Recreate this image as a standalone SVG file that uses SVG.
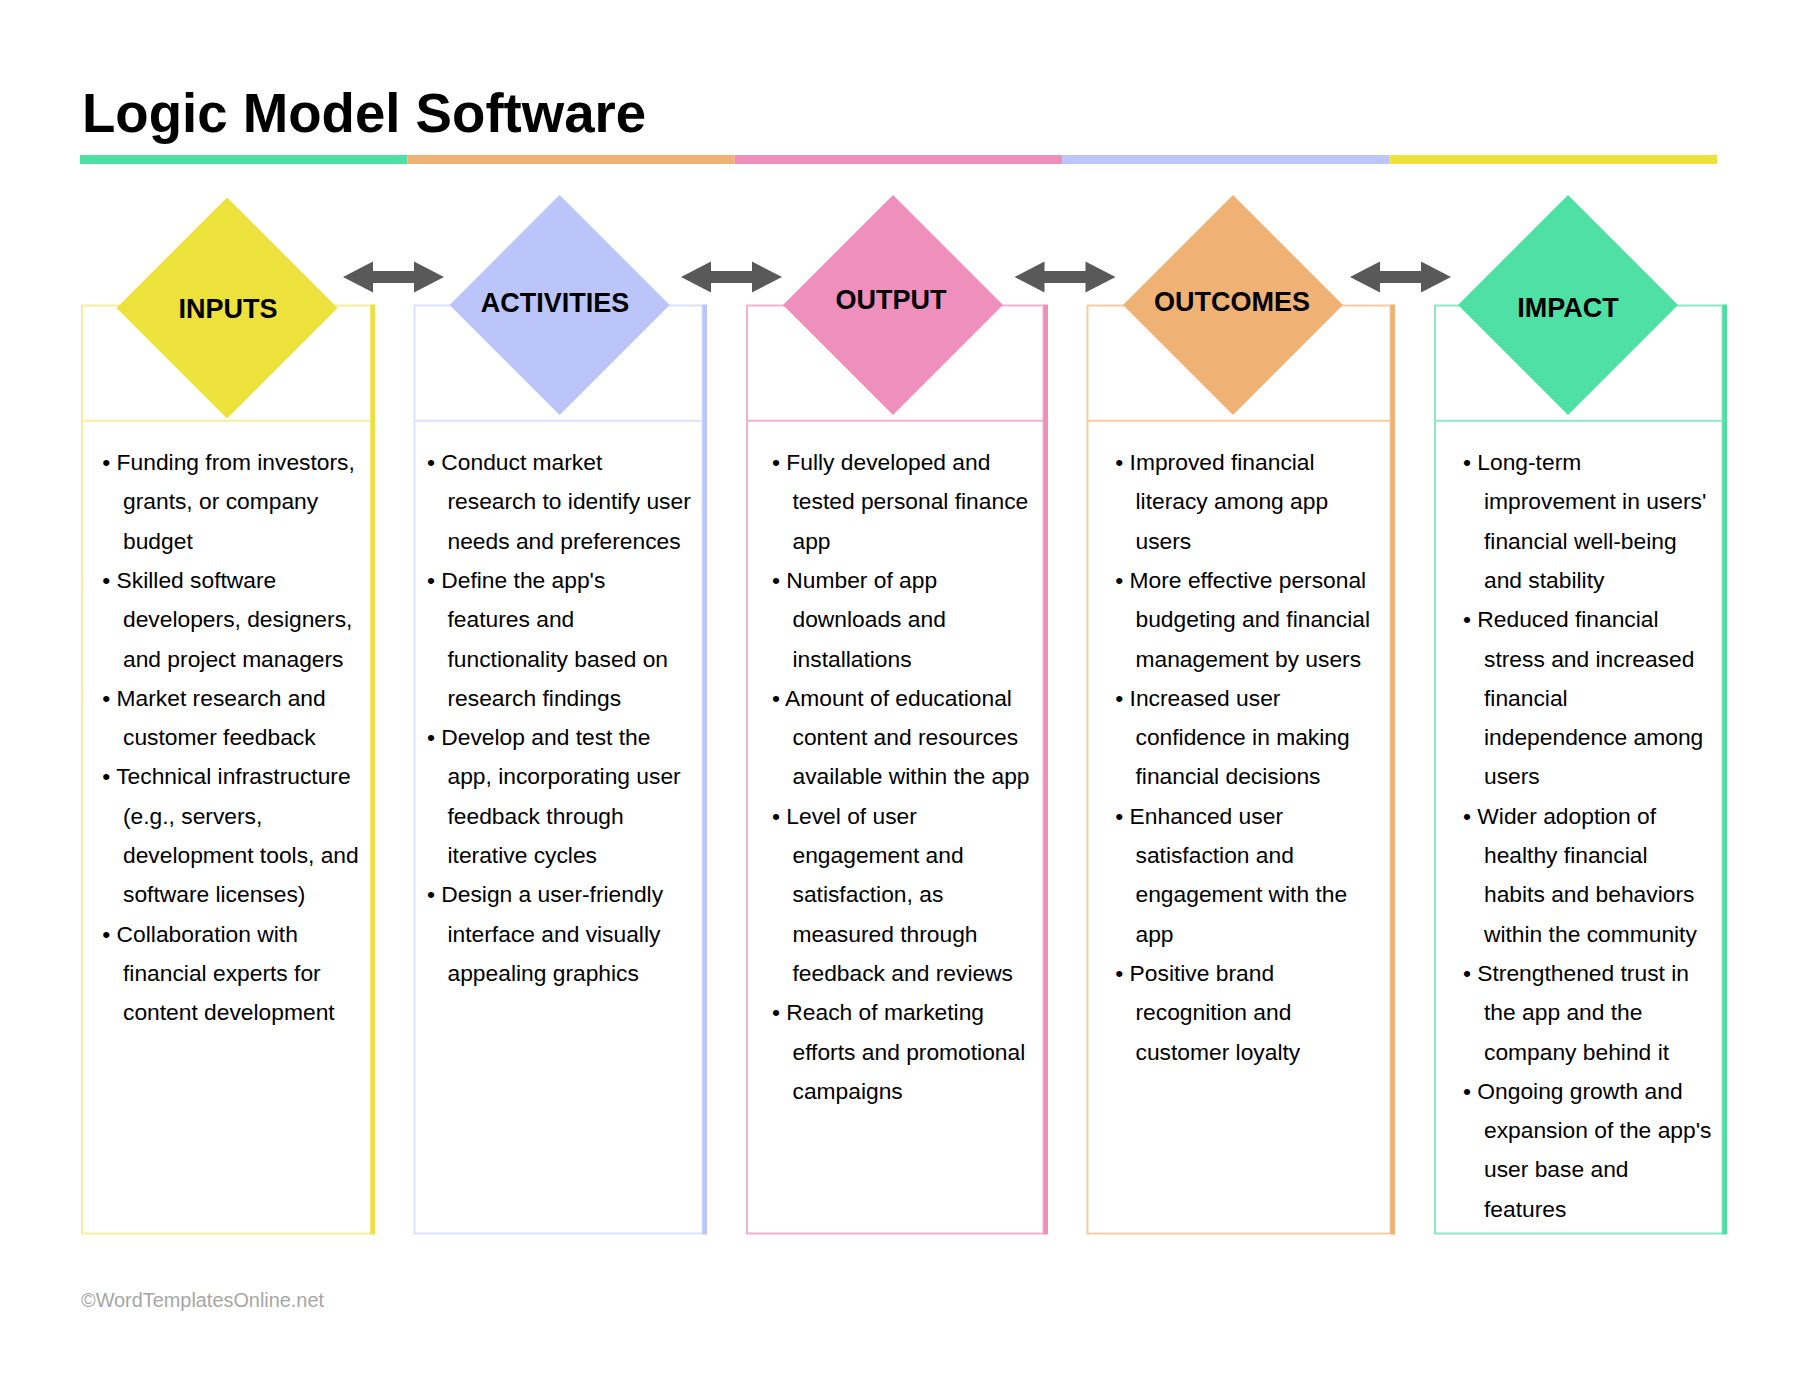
<svg xmlns="http://www.w3.org/2000/svg" width="1800" height="1391" viewBox="0 0 1800 1391">
<style>
.title{font-family:"Liberation Sans",Arial,sans-serif;font-weight:bold;font-size:54.6px;fill:#000}
.lbl{font-family:"Liberation Sans",Arial,sans-serif;font-weight:bold;font-size:27px;fill:#000;text-anchor:middle}
.body{font-family:"Liberation Sans",Arial,sans-serif;font-size:22.8px;fill:#000}
.foot{font-family:"Liberation Sans",Arial,sans-serif;font-size:19.5px;fill:#a6a6a6}
.box{fill:#fff;stroke-width:2}
.arrow{fill:#595959}
</style>
<defs>
<path id="dbl" d="M0,0 L30,-15.5 L30,-6 L71,-6 L71,-15.5 L101,0 L71,15.5 L71,6 L30,6 L30,15.5 Z"/>
</defs>
<rect width="1800" height="1391" fill="#fff"/>
<text class="title" x="82" y="132">Logic Model Software</text>
<g id="bar">
<rect x="80" y="155" width="327.4" height="9" fill="#4FE0A5"/>
<rect x="407.4" y="155" width="327.4" height="9" fill="#EFB274"/>
<rect x="734.8" y="155" width="327.4" height="9" fill="#EE8FBC"/>
<rect x="1062.2" y="155" width="327.4" height="9" fill="#BBC5F9"/>
<rect x="1389.6" y="155" width="327.4" height="9" fill="#EDE23B"/>
</g>
<g id="connectors" class="arrow">
<use href="#dbl" x="343" y="277"/>
<use href="#dbl" x="681" y="277"/>
<use href="#dbl" x="1014.5" y="277"/>
<use href="#dbl" x="1350" y="277"/>
</g>
<g id="inputs">
<rect class="box" x="82" y="305.5" width="289" height="928" stroke="#F6EE9E"/>
<line x1="82" y1="420.7" x2="371" y2="420.7" stroke="#F6EE9E" stroke-width="2"/>
<rect x="370.5" y="304.5" width="4.5" height="930" fill="#EDE23B"/>
<polygon points="227,197.5 337.5,308 227,418.5 116.5,308" fill="#EDE23B"/>
<text class="lbl" x="228" y="317.5">INPUTS</text>
<text class="body">
<tspan x="102.3" y="470">• Funding from investors,</tspan>
<tspan x="123" y="509.3">grants, or company</tspan>
<tspan x="123" y="548.6">budget</tspan>
<tspan x="102.3" y="587.9">• Skilled software</tspan>
<tspan x="123" y="627.2">developers, designers,</tspan>
<tspan x="123" y="666.5">and project managers</tspan>
<tspan x="102.3" y="705.8">• Market research and</tspan>
<tspan x="123" y="745.1">customer feedback</tspan>
<tspan x="102.3" y="784.4">• Technical infrastructure</tspan>
<tspan x="123" y="823.7">(e.g., servers,</tspan>
<tspan x="123" y="863">development tools, and</tspan>
<tspan x="123" y="902.3">software licenses)</tspan>
<tspan x="102.3" y="941.6">• Collaboration with</tspan>
<tspan x="123" y="980.9">financial experts for</tspan>
<tspan x="123" y="1020.2">content development</tspan>
</text>
</g>
<g id="activities">
<rect class="box" x="414.5" y="305.5" width="288" height="928" stroke="#DDE2FC"/>
<line x1="414.5" y1="420.7" x2="702.5" y2="420.7" stroke="#DDE2FC" stroke-width="2"/>
<rect x="702.5" y="304.5" width="4.5" height="930" fill="#BBC5F9"/>
<polygon points="559.6,195 669.6,305 559.6,415 449.6,305" fill="#BBC5F9"/>
<text class="lbl" x="555" y="311.5">ACTIVITIES</text>
<text class="body">
<tspan x="427" y="470">• Conduct market</tspan>
<tspan x="447.5" y="509.3">research to identify user</tspan>
<tspan x="447.5" y="548.6">needs and preferences</tspan>
<tspan x="427" y="587.9">• Define the app's</tspan>
<tspan x="447.5" y="627.2">features and</tspan>
<tspan x="447.5" y="666.5">functionality based on</tspan>
<tspan x="447.5" y="705.8">research findings</tspan>
<tspan x="427" y="745.1">• Develop and test the</tspan>
<tspan x="447.5" y="784.4">app, incorporating user</tspan>
<tspan x="447.5" y="823.7">feedback through</tspan>
<tspan x="447.5" y="863">iterative cycles</tspan>
<tspan x="427" y="902.3">• Design a user-friendly</tspan>
<tspan x="447.5" y="941.6">interface and visually</tspan>
<tspan x="447.5" y="980.9">appealing graphics</tspan>
</text>
</g>
<g id="output">
<rect class="box" x="747" y="305.5" width="296.5" height="928" stroke="#F3B1D0"/>
<line x1="747" y1="420.7" x2="1043.5" y2="420.7" stroke="#F3B1D0" stroke-width="2"/>
<rect x="1043.5" y="304.5" width="4.5" height="930" fill="#EE8FBC"/>
<polygon points="893,195 1003,305 893,415 783,305" fill="#EE8FBC"/>
<text class="lbl" x="891" y="308.5">OUTPUT</text>
<text class="body">
<tspan x="772" y="470">• Fully developed and</tspan>
<tspan x="792.5" y="509.3">tested personal finance</tspan>
<tspan x="792.5" y="548.6">app</tspan>
<tspan x="772" y="587.9">• Number of app</tspan>
<tspan x="792.5" y="627.2">downloads and</tspan>
<tspan x="792.5" y="666.5">installations</tspan>
<tspan x="772" y="705.8">• Amount of educational</tspan>
<tspan x="792.5" y="745.1">content and resources</tspan>
<tspan x="792.5" y="784.4">available within the app</tspan>
<tspan x="772" y="823.7">• Level of user</tspan>
<tspan x="792.5" y="863">engagement and</tspan>
<tspan x="792.5" y="902.3">satisfaction, as</tspan>
<tspan x="792.5" y="941.6">measured through</tspan>
<tspan x="792.5" y="980.9">feedback and reviews</tspan>
<tspan x="772" y="1020.2">• Reach of marketing</tspan>
<tspan x="792.5" y="1059.5">efforts and promotional</tspan>
<tspan x="792.5" y="1098.8">campaigns</tspan>
</text>
</g>
<g id="outcomes">
<rect class="box" x="1087.5" y="305.5" width="303" height="928" stroke="#F5CCA3"/>
<line x1="1087.5" y1="420.7" x2="1390.5" y2="420.7" stroke="#F5CCA3" stroke-width="2"/>
<rect x="1390.5" y="304.5" width="4.5" height="930" fill="#EFB274"/>
<polygon points="1233,195 1343,305 1233,415 1123,305" fill="#EFB274"/>
<text class="lbl" x="1232" y="310.5">OUTCOMES</text>
<text class="body">
<tspan x="1115.3" y="470">• Improved financial</tspan>
<tspan x="1135.5" y="509.3">literacy among app</tspan>
<tspan x="1135.5" y="548.6">users</tspan>
<tspan x="1115.3" y="587.9">• More effective personal</tspan>
<tspan x="1135.5" y="627.2">budgeting and financial</tspan>
<tspan x="1135.5" y="666.5">management by users</tspan>
<tspan x="1115.3" y="705.8">• Increased user</tspan>
<tspan x="1135.5" y="745.1">confidence in making</tspan>
<tspan x="1135.5" y="784.4">financial decisions</tspan>
<tspan x="1115.3" y="823.7">• Enhanced user</tspan>
<tspan x="1135.5" y="863">satisfaction and</tspan>
<tspan x="1135.5" y="902.3">engagement with the</tspan>
<tspan x="1135.5" y="941.6">app</tspan>
<tspan x="1115.3" y="980.9">• Positive brand</tspan>
<tspan x="1135.5" y="1020.2">recognition and</tspan>
<tspan x="1135.5" y="1059.5">customer loyalty</tspan>
</text>
</g>
<g id="impact">
<rect class="box" x="1435" y="305.5" width="287.5" height="928" stroke="#8CE9C3"/>
<line x1="1435" y1="420.7" x2="1722.5" y2="420.7" stroke="#8CE9C3" stroke-width="2"/>
<rect x="1722.5" y="304.5" width="4.5" height="930" fill="#4FE0A5"/>
<polygon points="1568,195 1678,305 1568,415 1458,305" fill="#4FE0A5"/>
<text class="lbl" x="1568" y="317">IMPACT</text>
<text class="body">
<tspan x="1463" y="470">• Long-term</tspan>
<tspan x="1484" y="509.3">improvement in users'</tspan>
<tspan x="1484" y="548.6">financial well-being</tspan>
<tspan x="1484" y="587.9">and stability</tspan>
<tspan x="1463" y="627.2">• Reduced financial</tspan>
<tspan x="1484" y="666.5">stress and increased</tspan>
<tspan x="1484" y="705.8">financial</tspan>
<tspan x="1484" y="745.1">independence among</tspan>
<tspan x="1484" y="784.4">users</tspan>
<tspan x="1463" y="823.7">• Wider adoption of</tspan>
<tspan x="1484" y="863">healthy financial</tspan>
<tspan x="1484" y="902.3">habits and behaviors</tspan>
<tspan x="1484" y="941.6">within the community</tspan>
<tspan x="1463" y="980.9">• Strengthened trust in</tspan>
<tspan x="1484" y="1020.2">the app and the</tspan>
<tspan x="1484" y="1059.5">company behind it</tspan>
<tspan x="1463" y="1098.8">• Ongoing growth and</tspan>
<tspan x="1484" y="1138.1">expansion of the app's</tspan>
<tspan x="1484" y="1177.4">user base and</tspan>
<tspan x="1484" y="1216.7">features</tspan>
</text>
</g>
<text class="foot" x="81" y="1306.5" textLength="243" lengthAdjust="spacingAndGlyphs">©WordTemplatesOnline.net</text>
</svg>
